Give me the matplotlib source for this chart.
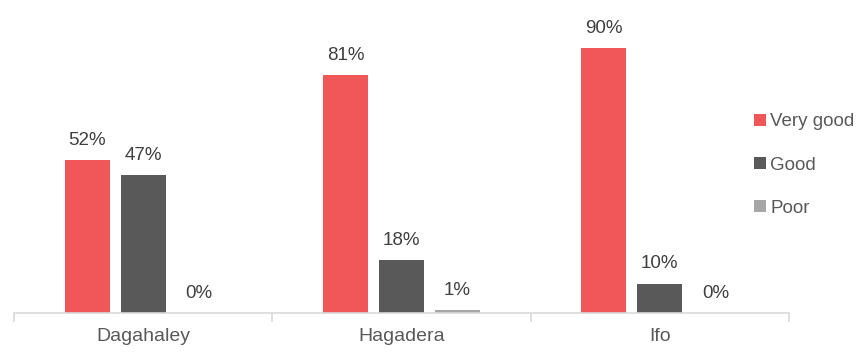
import numpy as np
import matplotlib
matplotlib.use("Agg")
import matplotlib.pyplot as plt

plt.rcParams['font.family'] = ['Liberation Sans', 'DejaVu Sans']

camps = ['Dagahaley', 'Hagadera', 'Ifo']
series = ['Very good', 'Good', 'Poor']
very_good = [52, 81, 90]
good = [47, 18, 10]
poor = [0, 1, 0]
colors = ['#EF5759', '#595959', '#A6A6A6']

fig = plt.figure(figsize=(8.64, 3.56), dpi=100)
ax = fig.add_axes([14 / 864, 43 / 356, 775 / 864, 313 / 356])

x = np.arange(len(camps))
step = 0.217
width = 0.175
for i, (vals, name) in enumerate(zip([very_good, good, poor], series)):
    pos = x + (i - 1) * step
    ax.bar(pos, vals, width, color=colors[i], label=name)
    for p, v in zip(pos, vals):
        ax.annotate(f'{v}%', (p, v), xytext=(0, 8), textcoords='offset points',
                    ha='center', va='bottom', fontsize=13.5, color='#404040')

ax.set_xlim(-0.5, 2.5)
ax.set_ylim(0, 106.4)
ax.set_yticks([])
for s in ['top', 'right', 'left']:
    ax.spines[s].set_visible(False)
ax.spines['bottom'].set_color('#D9D9D9')
ax.spines['bottom'].set_linewidth(1.2)

ax.set_xticks(x)
ax.set_xticklabels(camps, fontsize=14, color='#595959')
ax.tick_params(axis='x', which='major', length=0, pad=11)
ax.set_xticks([-0.5, 0.5, 1.5, 2.5], minor=True)
ax.tick_params(axis='x', which='minor', length=6.5, color='#D9D9D9', width=1.2)

leg = fig.legend(loc='center left', bbox_to_anchor=(745 / 864, 1 - 165 / 356), frameon=False,
                 fontsize=13.5, handlelength=0.6, handleheight=0.6,
                 handletextpad=0.25, labelspacing=1.4, borderpad=0)
for t in leg.get_texts():
    t.set_color('#595959')

fig.savefig('out.png', dpi=100)
